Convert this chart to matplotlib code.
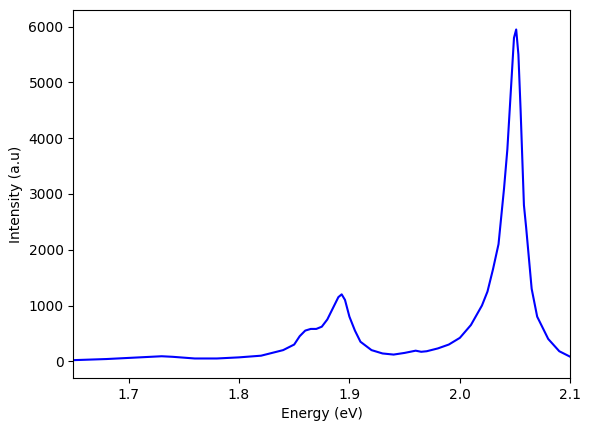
import matplotlib
matplotlib.use("Agg")
import matplotlib.pyplot as plt

energy = [1.65, 1.68, 1.70, 1.72, 1.73, 1.74, 1.76, 1.78, 1.80, 1.82, 1.84, 1.85,
          1.855, 1.86, 1.865, 1.87, 1.875, 1.88, 1.885, 1.89, 1.893, 1.896, 1.90,
          1.905, 1.91, 1.92, 1.93, 1.94, 1.95, 1.96, 1.965, 1.97, 1.98, 1.99, 2.00,
          2.01, 2.02, 2.025, 2.03, 2.035, 2.04, 2.043, 2.046, 2.049, 2.051, 2.053,
          2.055, 2.058, 2.06, 2.065, 2.07, 2.08, 2.09, 2.10]
intensity = [20, 40, 60, 80, 90, 80, 50, 50, 70, 100, 200, 300,
             450, 550, 580, 580, 620, 750, 950, 1150, 1200, 1100, 800,
             550, 350, 200, 140, 120, 150, 190, 170, 180, 230, 300, 420,
             650, 1000, 1250, 1650, 2100, 3100, 3800, 4800, 5800, 5950, 5500,
             4500, 2800, 2400, 1300, 800, 400, 180, 80]

fig = plt.figure(figsize=(5.91, 4.32), dpi=100)
ax = fig.add_axes([0.124, 0.125, 0.841, 0.852])
ax.plot(energy, intensity, color="blue")
ax.set_xlim(1.65, 2.1)
ax.set_ylim(-300, 6300)
ax.set_xticks([1.7, 1.8, 1.9, 2.0, 2.1])
ax.set_xlabel("Energy (eV)")
ax.set_ylabel("Intensity (a.u)")
fig.savefig("out.png")
